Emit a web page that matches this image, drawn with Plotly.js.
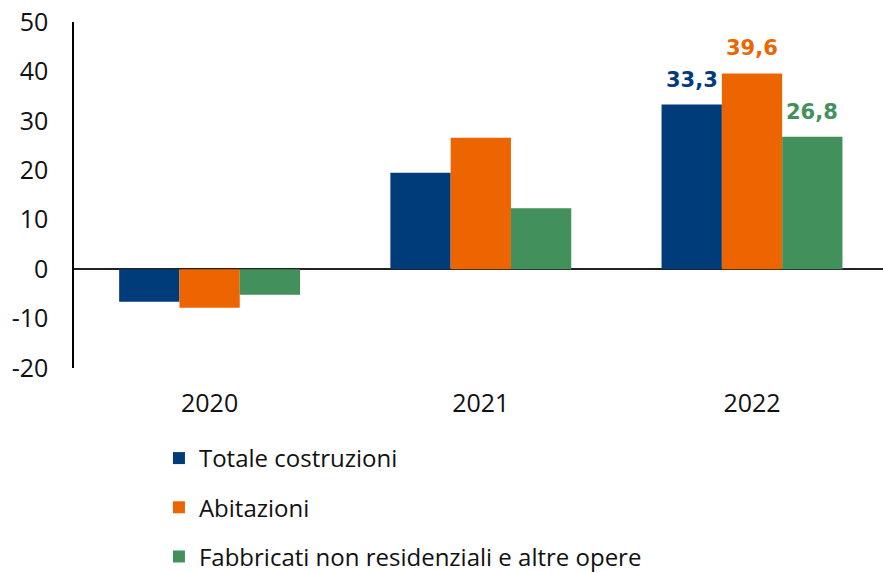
<!DOCTYPE html>
<html>
<head>
<meta charset="utf-8">
<script src="https://cdn.plot.ly/plotly-3.0.1.min.js"></script>
<style>
  html, body { margin: 0; padding: 0; background: #ffffff; }
  #chart { width: 883px; height: 573px; }
</style>
</head>
<body>
<div id="chart"></div>
<script>
// ---- data ----
const years = ['2020', '2021', '2022'];
const seriesNames = ['Totale costruzioni', 'Abitazioni', 'Fabbricati non residenziali e altre opere'];
const totaleCostruzioni = [-6.6, 19.5, 33.3];
const abitazioni = [-7.8, 26.6, 39.6];
const fabbricati = [-5.2, 12.3, 26.8];
const seriesColors = ['#003B7A', '#EC6500', '#42915C'];
const labelledYearIndex = 2; // values shown only for 2022
const yTickValues = [-20, -10, 0, 10, 20, 30, 40, 50];

const allValues = [totaleCostruzioni, abitazioni, fabbricati];
const bargap = 0.333;
const baseFont = '"Open Sans", Lato, sans-serif';

const traces = allValues.map((vals, i) => ({
  type: 'bar',
  name: seriesNames[i],
  x: years,
  y: vals,
  marker: { color: seriesColors[i], line: { width: 0 } },
  legendgroup: 'g' + i,
  hoverinfo: 'skip'
}));

const groupWidth = 1 - bargap;
const barW = groupWidth / allValues.length;
const annotations = allValues.map((vals, i) => ({
  xref: 'x', yref: 'y',
  x: labelledYearIndex + (i - (allValues.length - 1) / 2) * barW,
  y: vals[labelledYearIndex],
  text: vals[labelledYearIndex].toFixed(1).replace('.', ','),
  showarrow: false,
  yanchor: 'middle',
  yshift: 25,
  font: { family: '"DejaVu Sans", sans-serif', size: 21, color: seriesColors[i], weight: 'bold' }
}));

const layout = {
  width: 883,
  height: 573,
  margin: { l: 74, r: 0, t: 22, b: 205, pad: 0, autoexpand: false },
  paper_bgcolor: '#ffffff',
  plot_bgcolor: '#ffffff',
  separators: ', ',
  barmode: 'group',
  bargap: bargap,
  bargroupgap: 0,
  showlegend: true,
  font: { family: baseFont, size: 25, color: '#111111' },
  xaxis: {
    type: 'category',
    range: [-0.5, 2.483],
    showgrid: false,
    zeroline: false,
    showline: false,
    ticks: 'outside',
    ticklen: 13,
    tickcolor: 'rgba(0,0,0,0)',
    tickfont: { family: baseFont, size: 25, color: '#111111' },
    fixedrange: true
  },
  yaxis: {
    range: [-20, 50],
    tickvals: yTickValues,
    ticktext: yTickValues.map(String),
    showgrid: false,
    zeroline: true,
    zerolinecolor: '#222222',
    zerolinewidth: 1.6,
    showline: true,
    linecolor: '#000000',
    linewidth: 1.6,
    ticks: 'outside',
    ticklen: 19,
    tickcolor: 'rgba(0,0,0,0)',
    tickfont: { family: baseFont, size: 25, color: '#111111' },
    fixedrange: true
  },
  legend: {
    orientation: 'v',
    x: 0.105,
    xanchor: 'left',
    y: -0.1965,
    yanchor: 'top',
    traceorder: 'grouped',
    tracegroupgap: 15,
    font: { family: baseFont, size: 24, color: '#111111' },
    bgcolor: 'rgba(0,0,0,0)'
  },
  annotations: annotations
};

Plotly.newPlot('chart', traces, layout, { displayModeBar: false, staticPlot: true });
</script>
</body>
</html>
